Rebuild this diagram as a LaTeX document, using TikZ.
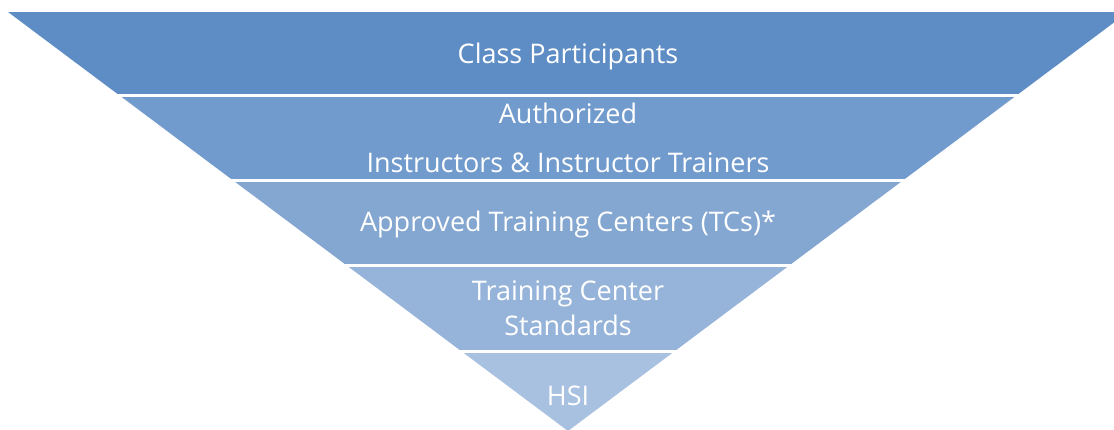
\documentclass[tikz,border=0pt]{standalone}
\usepackage{fontspec}
\setmainfont{Open Sans}
\definecolor{bandA}{HTML}{5E8DC5}
\definecolor{bandB}{HTML}{729BCD}
\definecolor{bandC}{HTML}{84A7D2}
\definecolor{bandD}{HTML}{96B4DA}
\definecolor{bandE}{HTML}{A8C1E0}
\tikzset{
  lbl/.style={text=white, font=\fontsize{27}{32}\selectfont, inner sep=0pt, anchor=base}
}
\begin{document}
\begin{tikzpicture}[x=1pt,y=1pt]
\useasboundingbox (0,0) rectangle (1114,429);
\begin{scope}
  \clip (8,417) -- (1128,417) -- (568,-2) -- cycle;
  \fill[bandA] (0,335) rectangle (1130,417);
  \fill[bandB] (0,250) rectangle (1130,332);
  \fill[bandC] (0,165) rectangle (1130,247);
  \fill[bandD] (0,79) rectangle (1130,162);
  \fill[bandE] (0,-5) rectangle (1130,76);
\end{scope}
\node[lbl] (p1) at (568,365) {Class Participants};
\node[lbl] (p2a) at (568,305) {Authorized};
\node[lbl] (p2b) at (568,256) {Instructors \& Instructor Trainers};
\node[lbl] (p3) at (568,197) {Approved Training Centers (TCs)*};
\node[lbl] (p4a) at (568,129) {Training Center};
\node[lbl] (p4b) at (568,94) {Standards};
\node[lbl] (p5) at (568,24) {HSI};
\end{tikzpicture}
\end{document}
